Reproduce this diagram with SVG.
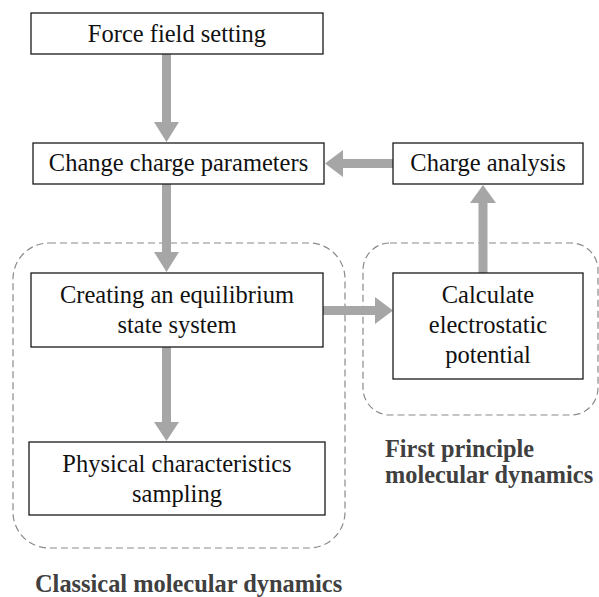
<svg xmlns="http://www.w3.org/2000/svg" width="599" height="597" viewBox="0 0 599 597">
<style>
.box{fill:#fff;stroke:#1a1a1a;stroke-width:1.3}
.grp{fill:none;stroke:#8a8a8a;stroke-width:1.2;stroke-dasharray:7 4}
.arr{fill:#a6a6a6}
</style>
<rect width="599" height="597" fill="#fff"/>
<g id="groups">
<rect id="classical" class="grp" x="13" y="243" width="332" height="305" rx="36"/>
<rect id="firstprinciple" class="grp" x="363" y="243" width="235" height="172" rx="27"/>
</g>
<g id="connectors">
<polygon class="arr" points="162,54 171,54 171,122 179,122 166.5,142 154,122 162,122"/>
<polygon class="arr" points="162,184 171,184 171,252 179,252 166.5,272 154,252 162,252"/>
<polygon class="arr" points="162,347 171,347 171,422 179,422 166.5,441 154,422 162,422"/>
<polygon class="arr" points="393,159 343,159 343,150 325,163.5 343,177 343,168 393,168"/>
<polygon class="arr" points="478.5,273 478.5,203 470,203 483,185 496,203 487.5,203 487.5,273"/>
<polygon class="arr" points="323,306 375,306 375,297 393,310.5 375,324 375,315 323,315"/>
</g>
<g font-family="Liberation Serif, Times New Roman, serif" font-size="24.5" fill="#111" text-anchor="middle">
<g id="force">
<rect class="box" x="31" y="13" width="292" height="41"/>
<text x="177" y="42">Force field setting</text>
</g>
<g id="change">
<rect class="box" x="33" y="143" width="291" height="41"/>
<text x="178.5" y="171">Change charge parameters</text>
</g>
<g id="chargeanalysis">
<rect class="box" x="393" y="143" width="190" height="41"/>
<text x="488" y="171">Charge analysis</text>
</g>
<g id="creating">
<rect class="box" x="31" y="273" width="292" height="74"/>
<text x="177" y="303">Creating an equilibrium</text>
<text x="177" y="333">state system</text>
</g>
<g id="calculate">
<rect class="box" x="393" y="273" width="190" height="106"/>
<text x="488" y="303">Calculate</text>
<text x="488" y="333">electrostatic</text>
<text x="488" y="363">potential</text>
</g>
<g id="physical">
<rect class="box" x="29" y="442" width="296" height="73"/>
<text x="177" y="472">Physical characteristics</text>
<text x="177" y="502">sampling</text>
</g>
</g>
<g id="labels" font-family="Liberation Serif, Times New Roman, serif" font-weight="bold" fill="#404040">
<text x="35" y="592" font-size="24.4">Classical molecular dynamics</text>
<text x="385" y="457" font-size="24.3">First principle</text>
<text x="385" y="483" font-size="24.3">molecular dynamics</text>
</g>
</svg>
